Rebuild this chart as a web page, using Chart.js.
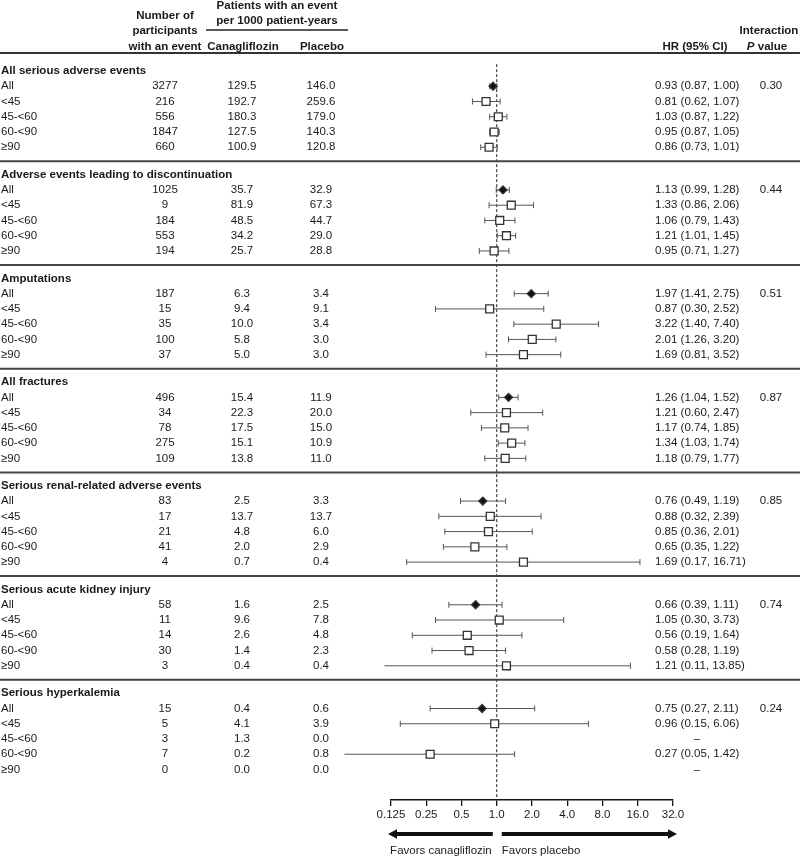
<!DOCTYPE html>
<html>
<head>
<meta charset="utf-8">
<title>Forest plot – safety outcomes by eGFR</title>
<script src="https://cdn.jsdelivr.net/npm/chart.js@4.4.1/dist/chart.umd.min.js"></script>
<style>
  html, body { margin: 0; padding: 0; background: #fff; }
  #wrap { width: 800px; height: 856px; }
</style>
</head>
<body>
<div id="wrap"><canvas id="forest" width="800" height="856"></canvas></div>
<script>
/* =====================================================
   Data
===================================================== */
const sections = [
  "All serious adverse events",
  "Adverse events leading to discontinuation",
  "Amputations",
  "All fractures",
  "Serious renal-related adverse events",
  "Serious acute kidney injury",
  "Serious hyperkalemia"
];
const subgroups = ["All", "<45", "45-<60", "60-<90", "≥90"];

const events = [
  [3277, 216, 556, 1847, 660],
  [1025, 9, 184, 553, 194],
  [187, 15, 35, 100, 37],
  [496, 34, 78, 275, 109],
  [83, 17, 21, 41, 4],
  [58, 11, 14, 30, 3],
  [15, 5, 3, 7, 0]
];
const rateCana = [
  [129.5, 192.7, 180.3, 127.5, 100.9],
  [35.7, 81.9, 48.5, 34.2, 25.7],
  [6.3, 9.4, 10.0, 5.8, 5.0],
  [15.4, 22.3, 17.5, 15.1, 13.8],
  [2.5, 13.7, 4.8, 2.0, 0.7],
  [1.6, 9.6, 2.6, 1.4, 0.4],
  [0.4, 4.1, 1.3, 0.2, 0.0]
];
const ratePlacebo = [
  [146.0, 259.6, 179.0, 140.3, 120.8],
  [32.9, 67.3, 44.7, 29.0, 28.8],
  [3.4, 9.1, 3.4, 3.0, 3.0],
  [11.9, 20.0, 15.0, 10.9, 11.0],
  [3.3, 13.7, 6.0, 2.9, 0.4],
  [2.5, 7.8, 4.8, 2.3, 0.4],
  [0.6, 3.9, 0.0, 0.8, 0.0]
];
const hr = [
  [0.93, 0.81, 1.03, 0.95, 0.86],
  [1.13, 1.33, 1.06, 1.21, 0.95],
  [1.97, 0.87, 3.22, 2.01, 1.69],
  [1.26, 1.21, 1.17, 1.34, 1.18],
  [0.76, 0.88, 0.85, 0.65, 1.69],
  [0.66, 1.05, 0.56, 0.58, 1.21],
  [0.75, 0.96, null, 0.27, null]
];
const ciLow = [
  [0.87, 0.62, 0.87, 0.87, 0.73],
  [0.99, 0.86, 0.79, 1.01, 0.71],
  [1.41, 0.30, 1.40, 1.26, 0.81],
  [1.04, 0.60, 0.74, 1.03, 0.79],
  [0.49, 0.32, 0.36, 0.35, 0.17],
  [0.39, 0.30, 0.19, 0.28, 0.11],
  [0.27, 0.15, null, 0.05, null]
];
const ciHigh = [
  [1.00, 1.07, 1.22, 1.05, 1.01],
  [1.28, 2.06, 1.43, 1.45, 1.27],
  [2.75, 2.52, 7.40, 3.20, 3.52],
  [1.52, 2.47, 1.85, 1.74, 1.77],
  [1.19, 2.39, 2.01, 1.22, 16.71],
  [1.11, 3.73, 1.64, 1.19, 13.85],
  [2.11, 6.06, null, 1.42, null]
];
const pInteraction = ["0.30", "0.44", "0.51", "0.87", "0.85", "0.74", "0.24"];

const xTicks = [0.125, 0.25, 0.5, 1, 2, 4, 8, 16, 32];
const xTickLabels = ["0.125", "0.25", "0.5", "1.0", "2.0", "4.0", "8.0", "16.0", "32.0"];

/* =====================================================
   Layout (row units on the y scale)
===================================================== */
const SECTION_STEP = 6.8;
const FONT = "'Liberation Sans', Arial, Helvetica, sans-serif";
const FS = 11.5;
const TXT = "#1a1a1a";

function rowY(s, k) { return s * SECTION_STEP + k; }

const col = { label: 1, events: 165, cana: 242, placebo: 321, hr: 655, p: 771 };

// =========================
// Datasets
// =========================
const markerPts = [], markerStyle = [], markerRadius = [], markerFill = [];
const ciSets = [];

sections.forEach((name, s) => {
  subgroups.forEach((g, i) => {
    if (hr[s][i] === null) return;
    const y = rowY(s, i + 1);
    markerPts.push({ x: hr[s][i], y: y });
    markerStyle.push(i === 0 ? 'rectRot' : 'rect');
    markerRadius.push(i === 0 ? 4 : 5.6);
    markerFill.push(i === 0 ? '#111' : '#fff');
    ciSets.push({
      type: 'line',
      showLine: true,
      data: [{ x: ciLow[s][i], y: y }, { x: ciHigh[s][i], y: y }],
      borderColor: '#555',
      borderWidth: 1,
      pointStyle: 'line',
      rotation: 90,
      pointRadius: 3,
      pointBorderColor: '#555',
      pointBorderWidth: 1,
      clip: false,
      order: 1
    });
  });
});

const datasets = [
  {
    type: 'scatter',
    data: markerPts,
    pointStyle: markerStyle,
    pointRadius: markerRadius,
    backgroundColor: markerFill,
    borderColor: '#333',
    borderWidth: 1.3,
    clip: false,
    order: 0
  },
  ...ciSets,
  {
    type: 'line',
    showLine: true,
    data: [{ x: 1, y: -0.45 }, { x: 1, y: 47.8 }],
    borderColor: '#222',
    borderWidth: 1,
    borderDash: [3, 2],
    pointRadius: 0,
    clip: false,
    order: 2
  }
];

// =========================
// Table text, rules and arrows
// =========================
function txt(ctx, s, x, y, align, bold, italic) {
  ctx.font = (italic ? 'italic ' : '') + (bold ? 'bold ' : '') + FS + 'px ' + FONT;
  ctx.textAlign = align;
  ctx.fillText(s, x, y);
}

function hline(ctx, y, x0, x1, w, c) {
  ctx.beginPath();
  ctx.lineWidth = w;
  ctx.strokeStyle = c;
  ctx.moveTo(x0, y);
  ctx.lineTo(x1, y);
  ctx.stroke();
}

const tablePlugin = {
  id: 'table',
  afterDraw(chart) {
    const ctx = chart.ctx;
    const ys = chart.scales.y;
    const xs = chart.scales.x;
    ctx.save();
    ctx.fillStyle = TXT;
    ctx.textBaseline = 'middle';

    // header
    txt(ctx, "Patients with an event", 277, 6, 'center', true);
    txt(ctx, "per 1000 patient-years", 277, 21, 'center', true);
    hline(ctx, 30, 206, 348, 1.3, '#222');
    txt(ctx, "Number of", col.events, 16, 'center', true);
    txt(ctx, "participants", col.events, 31, 'center', true);
    txt(ctx, "with an event", col.events, 47, 'center', true);
    txt(ctx, "Canagliflozin", 243, 47, 'center', true);
    txt(ctx, "Placebo", 322, 47, 'center', true);
    txt(ctx, "HR (95% CI)", 695, 47, 'center', true);
    txt(ctx, "Interaction", 769, 31, 'center', true);
    ctx.font = 'italic bold ' + FS + 'px ' + FONT;
    const wP = ctx.measureText("P").width;
    ctx.font = 'bold ' + FS + 'px ' + FONT;
    const wV = ctx.measureText(" value").width;
    const px0 = 767 - (wP + wV) / 2;
    txt(ctx, "P", px0, 47, 'left', true, true);
    txt(ctx, " value", px0 + wP, 47, 'left', true);
    hline(ctx, 53, 0, 800, 2, '#333');

    // body
    sections.forEach((name, s) => {
      if (s > 0) hline(ctx, ys.getPixelForValue(rowY(s, 0) - 0.88), 0, 800, 2, '#444');
      ctx.fillStyle = TXT;
      txt(ctx, name, col.label, ys.getPixelForValue(rowY(s, 0)), 'left', true);
      subgroups.forEach((g, i) => {
        const y = ys.getPixelForValue(rowY(s, i + 1));
        txt(ctx, g, col.label, y, 'left');
        txt(ctx, String(events[s][i]), col.events, y, 'center');
        txt(ctx, rateCana[s][i].toFixed(1), col.cana, y, 'center');
        txt(ctx, ratePlacebo[s][i].toFixed(1), col.placebo, y, 'center');
        if (hr[s][i] === null) {
          txt(ctx, "–", 697, y, 'center');
        } else {
          txt(ctx, hr[s][i].toFixed(2) + " (" + ciLow[s][i].toFixed(2) + ", " + ciHigh[s][i].toFixed(2) + ")", col.hr, y, 'left');
        }
        if (i === 0) txt(ctx, pInteraction[s], col.p, y, 'center');
      });
    });

    // favour arrows
    const xl = xs.getPixelForValue(xTicks[0]);
    const x1 = xs.getPixelForValue(1);
    const xr = xs.getPixelForValue(xTicks[xTicks.length - 1]);
    const ay = 834;
    ctx.fillStyle = '#111';
    ctx.strokeStyle = '#111';
    function arrow(tip, tail) {
      const dir = tip < tail ? 1 : -1;
      const base = tip + dir * 9;
      ctx.beginPath();
      ctx.lineWidth = 4;
      ctx.moveTo(tail, ay);
      ctx.lineTo(base, ay);
      ctx.stroke();
      ctx.beginPath();
      ctx.moveTo(tip, ay);
      ctx.lineTo(base, ay - 4.8);
      ctx.lineTo(base, ay + 4.8);
      ctx.closePath();
      ctx.fill();
    }
    arrow(xl - 3, x1 - 4);
    arrow(xr + 4, x1 + 5);
    ctx.fillStyle = '#222';
    ctx.font = FS + 'px ' + FONT;
    txt(ctx, "Favors canagliflozin", x1 - 5, 851, 'right');
    txt(ctx, "Favors placebo", x1 + 5, 851, 'left');
    ctx.restore();
  }
};

// =========================
// Chart
// =========================
new Chart(document.getElementById("forest").getContext("2d"), {
  type: 'scatter',
  data: { datasets: datasets },
  options: {
    responsive: false,
    animation: false,
    events: [],
    layout: { padding: { left: 391, right: 127, top: 53, bottom: 0 } },
    plugins: { legend: { display: false }, tooltip: { enabled: false } },
    scales: {
      x: {
        type: 'logarithmic',
        position: 'bottom',
        min: xTicks[0],
        max: xTicks[xTicks.length - 1],
        afterBuildTicks(scale) { scale.ticks = xTicks.map(v => ({ value: v })); },
        afterFit(scale) { scale.height = 56; },
        ticks: {
          autoSkip: false,
          maxRotation: 0,
          padding: 2,
          color: TXT,
          font: { family: FONT, size: FS },
          callback: (v, i) => xTickLabels[i]
        },
        grid: { drawOnChartArea: false, drawTicks: true, tickLength: 6, color: '#111', lineWidth: 1.3 },
        border: { display: true, color: '#111', width: 1.5 }
      },
      y: {
        type: 'linear',
        reverse: true,
        min: -1.18,
        max: 47.8,
        display: false
      }
    }
  },
  plugins: [tablePlugin]
});
</script>
</body>
</html>
